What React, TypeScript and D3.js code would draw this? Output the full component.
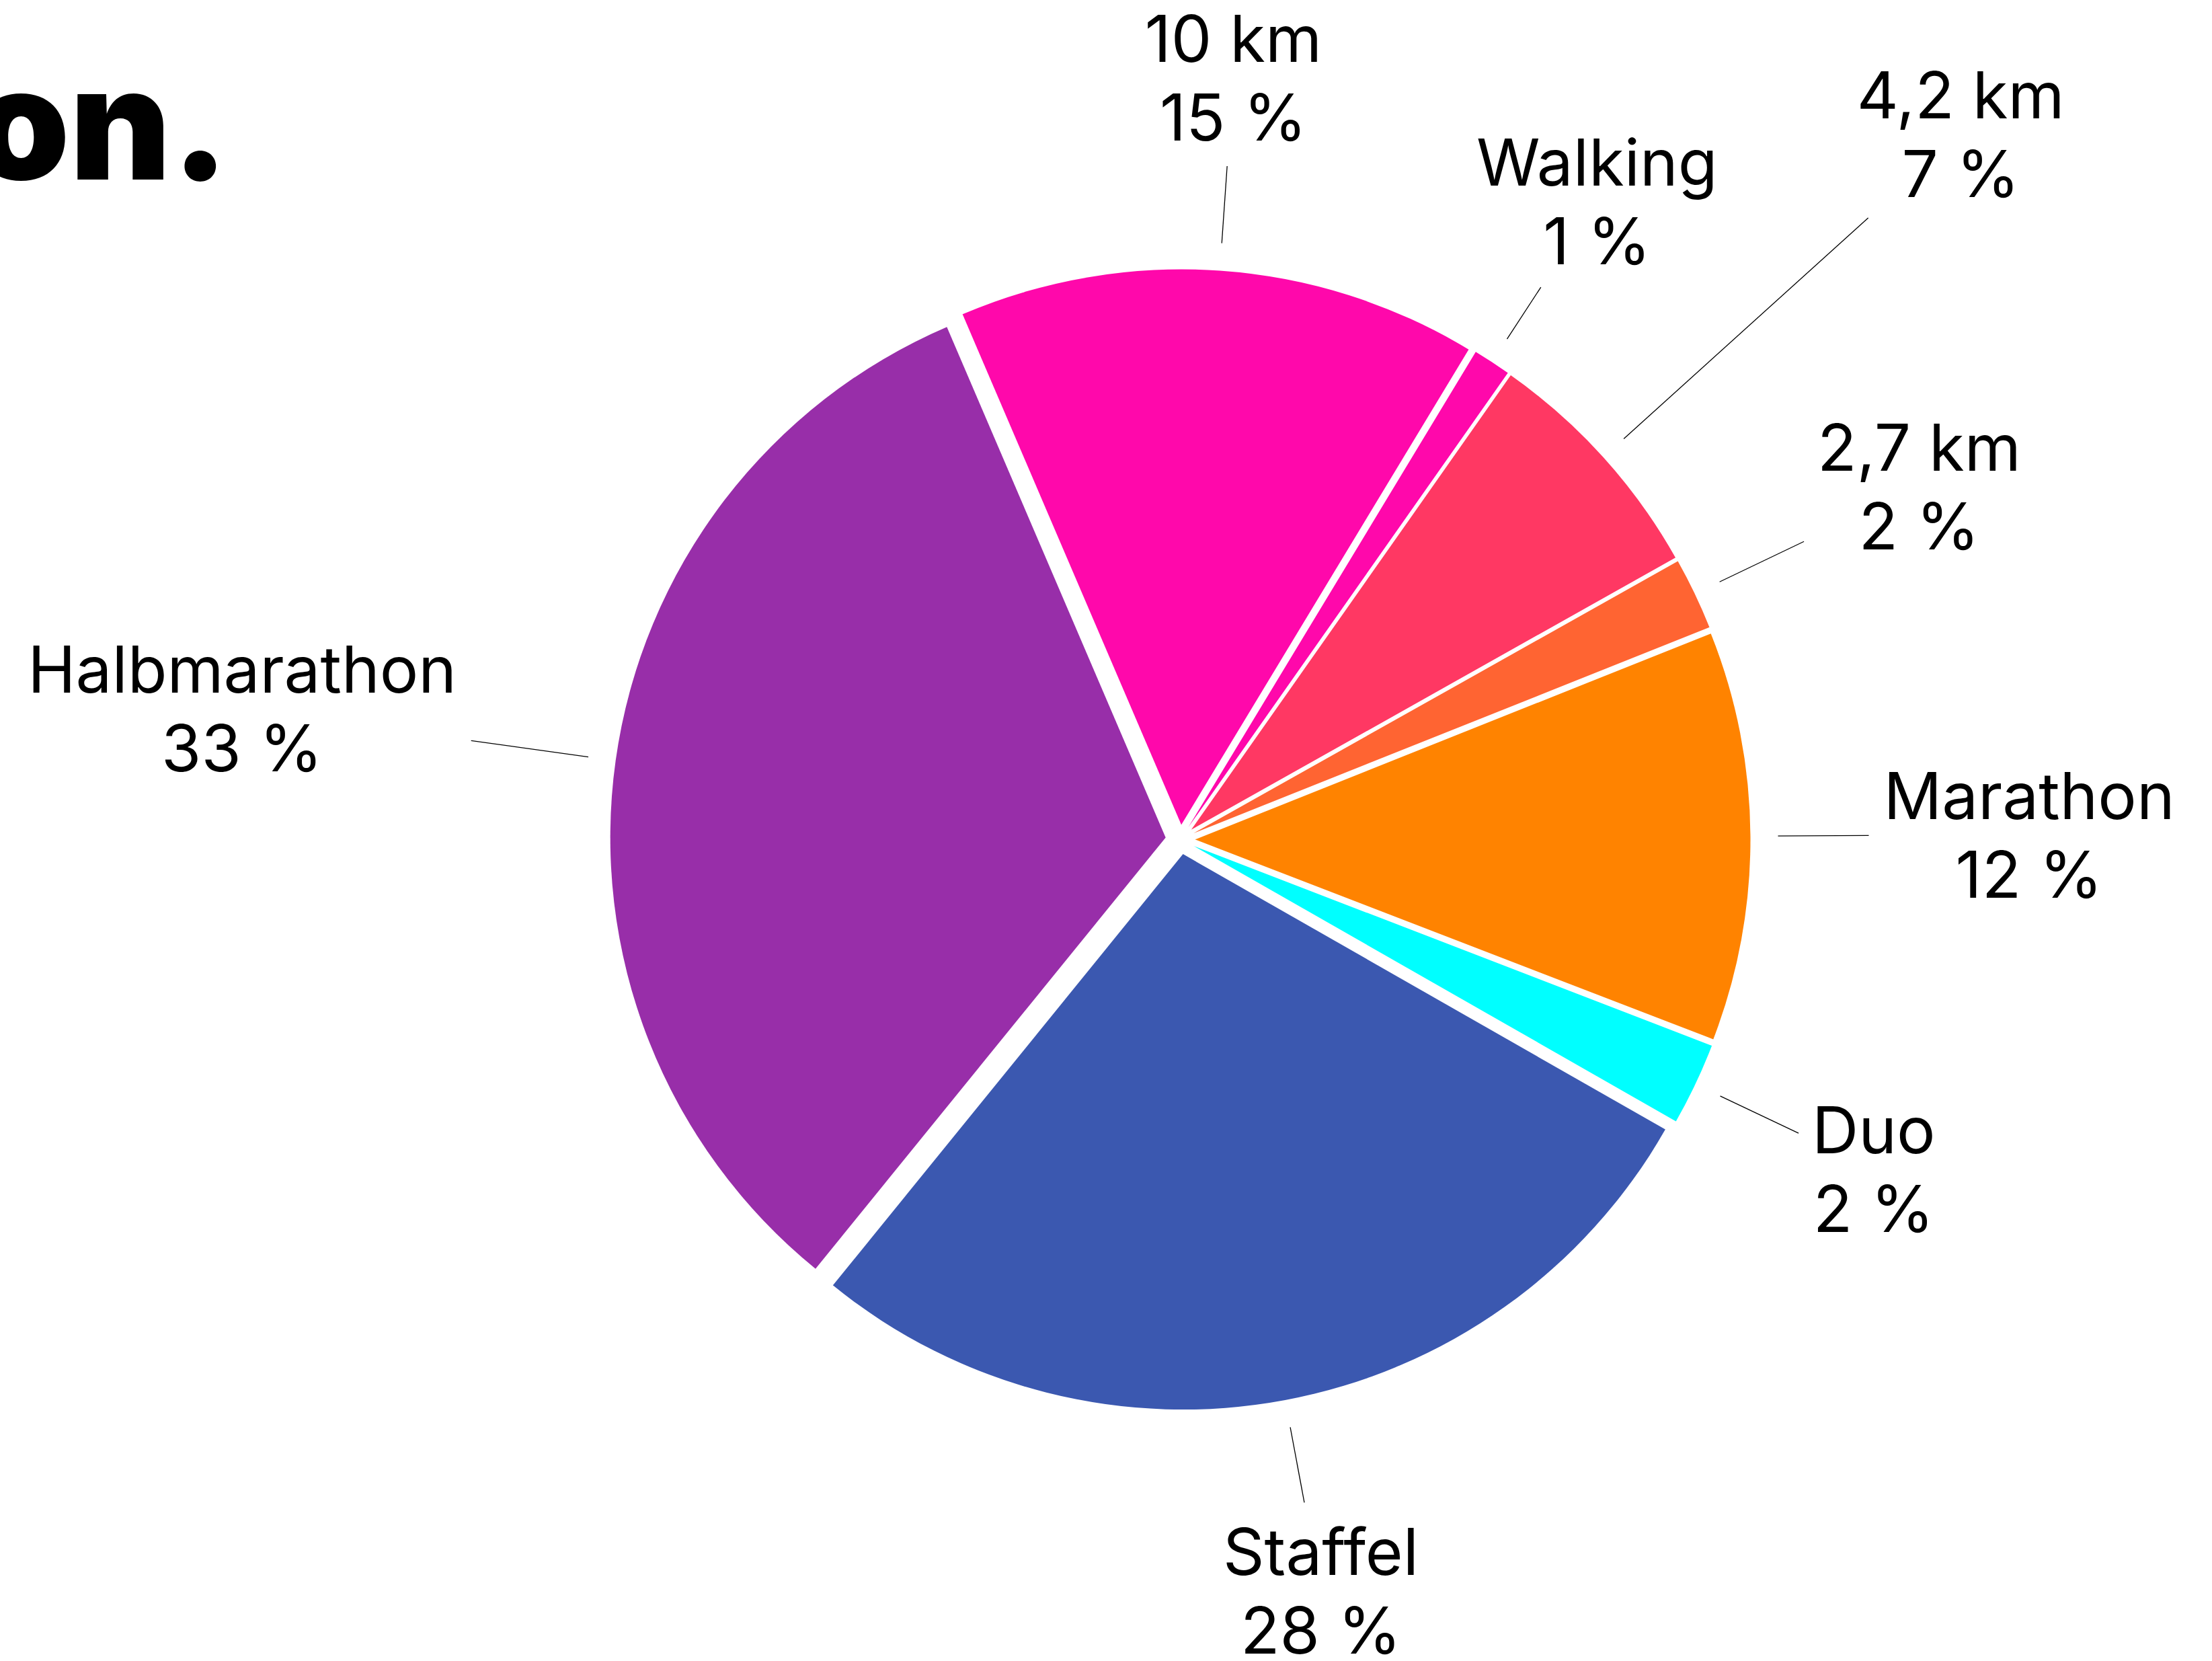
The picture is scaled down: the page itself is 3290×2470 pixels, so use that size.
import React from "react";
import * as d3 from "d3";

// ---- data ----
const categories = ["10 km", "Walking", "4,2 km", "2,7 km", "Marathon", "Duo", "Staffel", "Halbmarathon"];
const shares = [15.1, 1.1, 7.1, 2.1, 11.9, 2.4, 27.6, 32.7];
const sliceColors = ["#FF08AB", "#FF08AB", "#FF3863", "#FF6432", "#FF8300", "#00FFFF", "#3B58B0", "#982EA9"];
// leader line lengths (layout of label ticks)
const leaderLengths = [115, 92, 490, 139, 135, 129, 114, 176];
const titleText = "on.";

// ---- layout ----
const W = 3290;
const H = 2470;
const CX = 1755.5;
const CY = 1248.5;
const R = 826;
const SHIFT = 22;
const TICK_START = R + SHIFT + 41;
const FONT = 96;
const LINE = 117;
const CAP = 70;
const VPAD = 16;
const PAD = 22;
const START = (-23.2 * Math.PI) / 180;

let ctx: CanvasRenderingContext2D | null = null;
function textWidth(t: string): number {
  if (!ctx) {
    const c = document.createElement("canvas");
    ctx = c.getContext("2d");
  }
  if (!ctx) return t.length * FONT * 0.55;
  ctx.font = `400 ${FONT}px Inter`;
  return ctx.measureText(t).width;
}

export default function App() {
  const rows = categories.map((name, i) => ({ name, value: shares[i], color: sliceColors[i], len: leaderLengths[i] }));
  const pie = d3
    .pie<any>()
    .value((d: any) => d.value)
    .sort(null)
    .startAngle(START)
    .endAngle(START + 2 * Math.PI);
  const arcs = pie(rows);
  const arcGen = d3.arc<any>().innerRadius(0).outerRadius(R);

  return (
    <svg
      width={W}
      height={H}
      viewBox={`0 0 ${W} ${H}`}
      style={{ position: "absolute", left: 0, top: 0, background: "#fff" }}
    >
      <rect x={0} y={0} width={W} height={H} fill="#fff" />
      <text
        x={341}
        y={267}
        textAnchor="end"
        fontFamily="Inter"
        fontWeight={900}
        fontSize={232}
        fill="#000"
      >
        {titleText}
      </text>
      <g transform={`translate(${CX},${CY})`}>
        {arcs.map((a: any, i: number) => {
          const mid = (a.startAngle + a.endAngle) / 2;
          const dx = SHIFT * Math.sin(mid);
          const dy = -SHIFT * Math.cos(mid);
          return (
            <path
              key={i}
              d={arcGen(a) || ""}
              transform={`translate(${dx},${dy})`}
              fill={a.data.color}
            />
          );
        })}
        {arcs.map((a: any, i: number) => {
          const mid = (a.startAngle + a.endAngle) / 2;
          const sx = Math.sin(mid);
          const sy = -Math.cos(mid);
          const r1 = TICK_START;
          const r2 = TICK_START + a.data.len;
          const x1 = r1 * sx, y1 = r1 * sy;
          const x2 = r2 * sx, y2 = r2 * sy;
          const l1 = a.data.name;
          const l2 = `${Math.round(a.data.value)} %`;
          const w = Math.max(textWidth(l1), textWidth(l2));
          const h = CAP + LINE + 2 * VPAD;
          const tx = Math.abs(sx) > 1e-6 ? w / 2 / Math.abs(sx) : Infinity;
          const ty = Math.abs(sy) > 1e-6 ? h / 2 / Math.abs(sy) : Infinity;
          const t = Math.min(tx, ty) + PAD;
          const cx = x2 + t * sx;
          const cy = y2 + t * sy;
          const b1 = cy - h / 2 + VPAD + CAP;
          return (
            <g key={`l${i}`}>
              <line x1={x1} y1={y1} x2={x2} y2={y2} stroke="#000" strokeWidth={1.3} />
              <text
                x={cx}
                y={b1}
                textAnchor="middle"
                fontFamily="Inter"
                fontSize={FONT}
                fill="#000"
              >
                {l1}
              </text>
              <text
                x={cx}
                y={b1 + LINE}
                textAnchor="middle"
                fontFamily="Inter"
                fontSize={FONT}
                fill="#000"
              >
                {l2}
              </text>
            </g>
          );
        })}
      </g>
    </svg>
  );
}
